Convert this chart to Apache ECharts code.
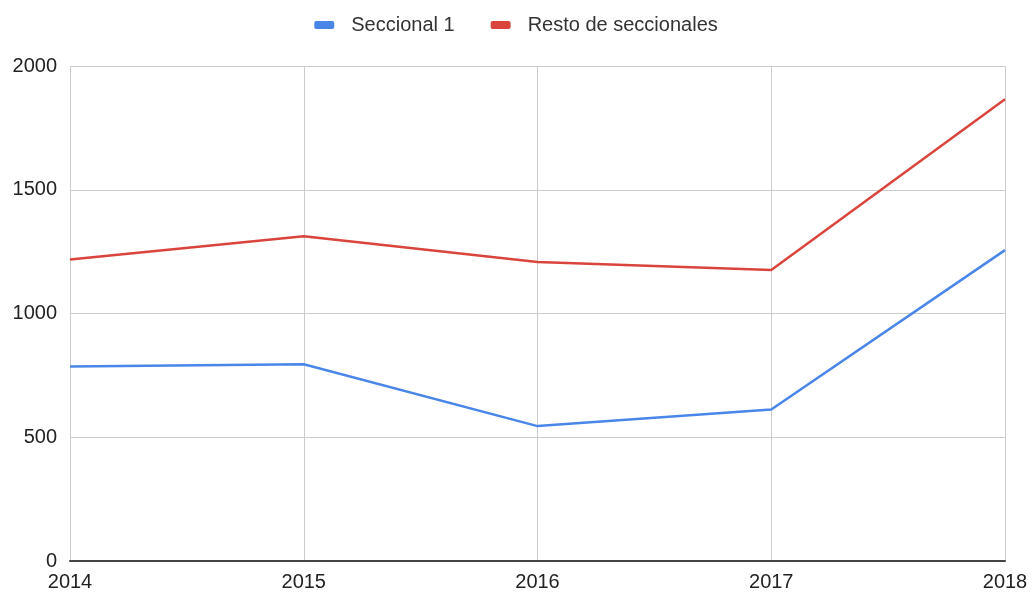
<!DOCTYPE html>
<html>
<head>
<meta charset="utf-8">
<script src="https://cdn.jsdelivr.net/npm/echarts@6/dist/echarts.min.js"></script>
<style>html,body{margin:0;padding:0;background:#fff}#c{width:1032px;height:596px}</style>
</head>
<body>
<div id="c"></div>
<script>
const categories = ['2014', '2015', '2016', '2017', '2018'];
const seccional1 = [786, 795, 545, 612, 1256];
const restoSeccionales = [1218, 1312, 1208, 1176, 1866];
const yTicks = [0, 500, 1000, 1500, 2000];

const chart = echarts.init(document.getElementById('c'));
const font = '"Liberation Sans", Arial, sans-serif';
chart.setOption({
  animation: false,
  legend: {
    top: 10,
    left: 'center',
    itemWidth: 20,
    itemHeight: 8,
    itemGap: 36,
    icon: 'roundRect',
    textStyle: { fontFamily: font, fontSize: 20, color: '#333', padding: [0, 0, 0, 12] },
    data: ['Seccional 1', 'Resto de seccionales']
  },
  grid: { left: 70, right: 27, top: 66, bottom: 35, containLabel: false },
  xAxis: {
    type: 'category',
    data: categories,
    boundaryGap: false,
    axisLine: { show: true, lineStyle: { color: '#444', width: 2 } },
    axisTick: { show: false },
    axisLabel: { fontFamily: font, fontSize: 20, color: '#222', margin: 11 },
    splitLine: { show: true, lineStyle: { color: '#cccccc', width: 1 } }
  },
  yAxis: {
    type: 'value',
    min: yTicks[0],
    max: yTicks[yTicks.length - 1],
    interval: 500,
    axisLine: { show: false },
    axisTick: { show: false },
    axisLabel: { fontFamily: font, fontSize: 20, color: '#222', margin: 13, formatter: v => String(v) },
    splitLine: { show: true, lineStyle: { color: '#cccccc', width: 1 } }
  },
  series: [
    {
      name: 'Seccional 1', type: 'line', data: seccional1,
      symbol: 'none', lineStyle: { color: '#4a86e8', width: 2.5 },
      itemStyle: { color: '#4a86e8' }
    },
    {
      name: 'Resto de seccionales', type: 'line', data: restoSeccionales,
      symbol: 'none', lineStyle: { color: '#d9453c', width: 2.5 },
      itemStyle: { color: '#d9453c' }
    }
  ]
});
</script>
</body>
</html>
